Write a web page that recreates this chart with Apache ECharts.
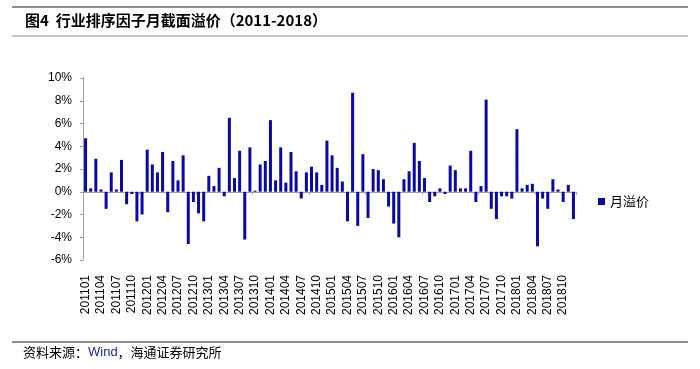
<!DOCTYPE html>
<html><head><meta charset="utf-8">
<script src="https://cdn.jsdelivr.net/npm/echarts@6/dist/echarts.min.js"></script>
<style>html,body{margin:0;padding:0;background:#fff}#c{width:700px;height:369px}</style>
</head><body><div id="c"></div>
<script>
// monthly categories 201101..201812
const categories = [];
for (let y = 2011; y <= 2018; y++) for (let m = 1; m <= 12; m++) categories.push(String(y) + (m < 10 ? '0' + m : m));

const y2011 = [4.7, 0.3, 2.9, 0.2, -1.5, 1.7, 0.2, 2.8, -1.1, -0.2, -2.6, -2.0];
const y2012 = [3.7, 2.4, 1.7, 3.5, -1.8, 2.7, 1.0, 3.2, -4.6, -0.9, -1.9, -2.6];
const y2013 = [1.4, 0.5, 2.1, -0.4, 6.5, 1.2, 3.6, -4.2, 3.9, 0.1, 2.4, 2.7];
const y2014 = [6.3, 1.0, 3.9, 0.8, 3.5, 1.8, -0.6, 1.7, 2.2, 1.7, 0.6, 4.5];
const y2015 = [3.2, 2.1, 0.9, -2.6, 8.7, -3.0, 3.3, -2.3, 2.0, 1.9, 1.1, -1.3];
const y2016 = [-2.8, -4.0, 1.1, 1.8, 4.3, 2.7, 1.2, -0.9, -0.4, 0.3, -0.2, 2.3];
const y2017 = [1.9, 0.3, 0.3, 3.6, -0.9, 0.5, 8.1, -1.5, -2.4, -0.4, -0.4, -0.6];
const y2018 = [5.5, 0.3, 0.6, 0.7, -4.8, -0.6, -1.5, 1.1, 0.2, -0.9, 0.6, -2.4];
const premium = [].concat(y2011, y2012, y2013, y2014, y2015, y2016, y2017, y2018);

const yTicks = { min: -6, max: 10, interval: 2 };
const seriesName = '月溢价';
const titleText = '图4  行业排序因子月截面溢价（2011-2018）';
const sourceText = '资料来源：Wind，海通证券研究所';

const chart = echarts.init(document.getElementById('c'), null, { renderer: 'canvas' });
const cjk = '"Noto Sans CJK SC", sans-serif';
const latin = '"Liberation Sans", Arial, sans-serif';
chart.setOption({
  animation: false,
  backgroundColor: '#fff',
  grid: { left: 83, right: 124, top: 78, bottom: 109, containLabel: false },
  legend: {
    data: [seriesName], right: 46, top: 190, itemWidth: 7, itemHeight: 7, itemGap: 4,
    icon: 'rect',
    textStyle: { fontFamily: cjk, fontSize: 13, color: '#000' }
  },
  xAxis: [
    {
      type: 'category', data: categories, position: 'bottom',
      axisLine: { onZero: true, lineStyle: { color: '#a0a0a0', width: 1 } },
      axisTick: { show: true, length: 3, lineStyle: { color: '#a0a0a0' } },
      axisLabel: { show: false }
    },
    {
      type: 'category', data: categories, position: 'bottom', gridIndex: 0,
      axisLine: { show: false }, axisTick: { show: false },
      axisLabel: { interval: 2, rotate: 90, fontFamily: latin, fontSize: 12, color: '#000', margin: 15 }
    }
  ],
  yAxis: {
    type: 'value', min: yTicks.min, max: yTicks.max, interval: yTicks.interval,
    axisLine: { show: true, lineStyle: { color: '#a0a0a0' } },
    axisTick: { show: true, length: 3, lineStyle: { color: '#a0a0a0' } },
    splitLine: { show: false },
    axisLabel: { formatter: '{value}%', fontFamily: latin, fontSize: 12, color: '#000', margin: 11 }
  },
  series: [{
    name: seriesName, type: 'bar', data: premium, xAxisIndex: 0,
    barWidth: 3, itemStyle: { color: '#0a0aa0' }
  }],
  graphic: [
    { type: 'line', shape: { x1: 12, y1: 7, x2: 688, y2: 7 }, style: { stroke: '#8c8c8c', lineWidth: 2 } },
    { type: 'line', shape: { x1: 12, y1: 36, x2: 688, y2: 36 }, style: { stroke: '#8c8c8c', lineWidth: 1 } },
    { type: 'text', left: 25, top: 13, style: { text: titleText, font: 'bold 15px ' + cjk, fill: '#000' } },
    { type: 'line', shape: { x1: 12, y1: 342, x2: 688, y2: 342 }, style: { stroke: '#8c8c8c', lineWidth: 2 } },
    { type: 'text', left: 23, top: 346, style: {
        rich: { a: { font: '13px ' + cjk, fill: '#000' }, w: { font: '13px ' + latin, fill: '#1a2a8a' } },
        text: '{a|资料来源：}{w|Wind}{a|，海通证券研究所}' } }
  ]
});
</script></body></html>
